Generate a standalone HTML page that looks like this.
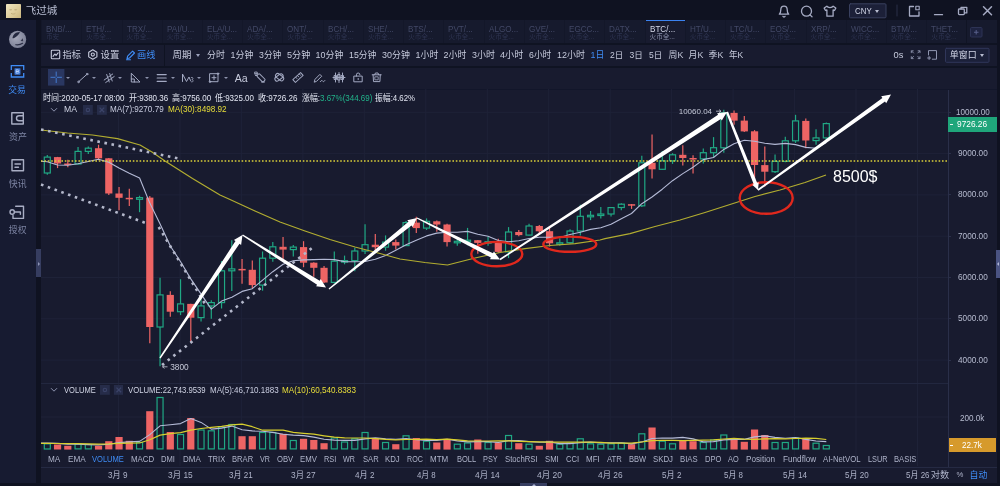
<!DOCTYPE html><html lang="zh"><head><meta charset="utf-8"><title>飞过城</title><style>

    html,body{margin:0;padding:0;background:#0f1221;}
    body{width:1000px;height:486px;overflow:hidden;position:relative;filter:blur(.4px);font-family:"Liberation Sans","Noto Sans CJK SC",sans-serif;color:#c3c7d9;font-size:9.5px;line-height:1;}
    .abs{position:absolute;}
    .t{position:absolute;white-space:nowrap;line-height:12px;height:12px;}
    #titlebar{left:0;top:0;width:1000px;height:20px;background:#0f1221;}
    #sidebar{left:0;top:20px;width:36.400px;height:466px;background:#171b31;}
    #main{left:41px;top:20px;width:955.500px;height:463px;background:#181b2f;}
    #tabs{left:41px;top:20px;width:955.500px;height:23px;background:#161a2d;}
    .tab{position:absolute;top:0;height:23px;width:40.240px;border-left:1px solid #131729;box-sizing:border-box;}
    .tab b{position:absolute;left:4px;top:3.600px;font-weight:normal;font-size:9.300px;color:#424866;line-height:10px;white-space:nowrap;transform:scaleX(.87);transform-origin:0 50%;}
    .tab i{position:absolute;left:4px;top:12.800px;font-style:normal;font-size:6.600px;color:#2e3451;line-height:8px;white-space:nowrap;}
    .tab.on b{color:#d5d9ea;}
    .tab.on i{color:#8a90ab;}
    .tab.on{background:#181b2f;}.tab.on:before{content:'';position:absolute;left:0;top:0;width:40px;height:1.300px;background:#3b82f0;}
    .sep{position:absolute;background:#0f1322;}
    .tb{color:#c6cadc;font-size:9.4px;}
    .blue{color:#3f8cf5;}
    .ind{color:#aeb3c9;font-size:9.2px;}
    .dt{color:#aeb3c9;font-size:9.2px;text-align:center;width:40px;}
    .ax{color:#b7bcd0;font-size:9.2px;}
    .side{color:#7d84a3;font-size:9.5px;width:36px;text-align:center;left:0;}
    
</style></head><body>
<div id="titlebar" class="abs"></div>
<svg class="abs" style="left:6.300px;top:3.700px" width="15" height="14.500" viewBox="0 0 15 14.500"><defs><linearGradient id="av" x1="0" y1="0" x2="1" y2="1"><stop offset="0" stop-color="#f0e6c2"/><stop offset=".6" stop-color="#dccb98"/><stop offset="1" stop-color="#c8b47c"/></linearGradient></defs><rect width="15" height="14.500" rx=".8" fill="url(#av)"/><ellipse cx="4.600" cy="5.800" rx="1.500" ry=".7" fill="#b9a575" opacity=".7"/><ellipse cx="9.600" cy="5.800" rx="1.500" ry=".7" fill="#b9a575" opacity=".7"/><path d="M5 9.300c1.400 1 3 1 4.400 0" stroke="#b39e6d" stroke-width=".8" fill="none" opacity=".8"/></svg>
<div class="t" style="left:25.77px;top:3.90px;font-size:10.55px;color:#b9bed2;">飞过城</div>
<svg class="abs" style="left:770px;top:0" width="230" height="20" viewBox="770 0 230 20" fill="none" stroke="#a6abc3" stroke-width="1.3" stroke-linecap="round" stroke-linejoin="round">
    <path d="M779.3 14.2h9.4c-1.2-1-1.5-2.2-1.5-4.4 0-2.2-1.3-3.7-3.2-3.7s-3.2 1.5-3.2 3.7c0 2.2-.3 3.400-1.5 4.400z"/><path d="M782.900 16.3a1.2 1.2 0 0 0 2.200 0"/>
    <circle cx="806.500" cy="11.200" r="5"/><path d="M810 14.900l2 1.900"/>
    <path d="M826.800 6.200l-2.600 1.900 1.300 2.400 1.400-.6v6.300h6.200V9.900l1.400.6 1.300-2.400-2.600-1.900c-.6 1-1.700 1.400-3.200 1.400s-2.600-.4-3.200-1.400z"/>
    <rect x="849.500" y="3.800" width="36.500" height="14" rx="1" stroke="#39405f" fill="#1c2038" stroke-width="1"/>
    <path d="M897 5v11" stroke="#2a2f49" stroke-width="1"/>
    <path d="M913.500 6.500h-4v9.500h9.500v-4"/><rect x="915.800" y="6.300" width="3.400" height="3.400" stroke-width="1.100"/>
    <path d="M934.500 14.700h8"/>
    <rect x="958.500" y="9" width="5.800" height="5.600" rx=".8"/><path d="M961 8.800V7.300h5.800v5.600h-2.200"/>
    <path d="M983.500 6.800l8 8M991.500 6.800l-8 8" stroke-width="1.500"/>
    </svg>
<div class="t" style="left:854.52px;top:5.10px;font-size:9.60px;color:#d3d7e8;transform:scaleX(0.824);transform-origin:0 50%;">CNY</div>
<div class="abs" style="left:875px;top:10px;width:0;height:0;border-left:2.6px solid transparent;border-right:2.6px solid transparent;border-top:3.2px solid #b8bdd0;"></div>
<div id="sidebar" class="abs"></div>
<svg class="abs" style="left:0;top:20px" width="36" height="260" viewBox="0 20 36 260" fill="none" stroke-linecap="round" stroke-linejoin="round">
    <defs><radialGradient id="lg" cx=".4" cy=".4" r=".7"><stop offset="0" stop-color="#a6a9ba"/><stop offset="1" stop-color="#777b91"/></radialGradient></defs>
<circle cx="17.600" cy="39.400" r="8.600" fill="url(#lg)"/>
<path d="M12.500 38.300C12.700 34.600 15.800 31.800 19.900 31.900 19.600 33.500 17.400 35.800 15.800 37 14.800 37.800 13.600 38.300 12.500 38.300z" fill="#1b1f36" opacity=".92"/>
<path d="M20.600 41.100l2.100-2.900.5 3.100z" fill="#1b1f36" opacity=".8"/>
<path d="M15.700 44.700c2.500.4 5-.1 6.900-1.400" stroke="#1b1f36" stroke-width="1.100" opacity=".85"/>
<g stroke="#3f8cf5" stroke-width="1.300" stroke-linecap="butt" stroke-linejoin="miter"><path d="M11.300 69.900v-4.200h12.400v4.200M11.300 73v4h12.400v-4"/><rect x="14.500" y="68.300" width="6" height="6.400" rx=".4" fill="#3a76d6" stroke="none"/></g>
<path d="M16.500 69.800h1.500a.8.800 0 0 1 0 1.650h-1.500zM16.500 71.450h1.700a.85.850 0 0 1 0 1.700h-1.700z" stroke="#c4dafb" stroke-width=".75"/>
<g stroke="#a9aec4" stroke-width="1.400"><path d="M23.300 115.300v-2.500h-11.500v11.200h11.500v-2.500"/><path d="M23.300 115.700h-4.300a2.500 2.500 0 0 0 0 5h4.300z"/>
    <rect x="12" y="159.800" width="11.500" height="11"/><path d="M15 164h5.500M15 167.300h3.500"/>
    <path d="M15.700 206.200h7.800v12.200h-10.500v-3"/><circle cx="12.200" cy="212" r="2.200"/><path d="M14.400 212h6v2.200"/></g>
    </svg>
<div class="t" style="left:8.36px;top:84.00px;font-size:8.74px;color:#3f8cf5;">交易</div>
<div class="t" style="left:8.95px;top:130.60px;font-size:9.01px;color:#7d84a3;">资产</div>
<div class="t" style="left:8.86px;top:177.80px;font-size:8.85px;color:#7d84a3;">快讯</div>
<div class="t" style="left:8.86px;top:224.20px;font-size:8.85px;color:#7d84a3;">授权</div>
<div class="abs" style="left:36.400px;top:248.700px;width:4.600px;height:28.500px;background:#363d60;"></div>
<div class="abs" style="left:37.500px;top:261.500px;width:0;height:0;border-top:2px solid transparent;border-bottom:2px solid transparent;border-left:2.500px solid #8d94b5;"></div>
<div id="main" class="abs"></div>
<div id="tabs" class="abs">
<div class="tab" style="left:0.0px"><b>BNB/...</b><i>币安</i></div>
<div class="tab" style="left:40.2px"><b>ETH/...</b><i>火币全...</i></div>
<div class="tab" style="left:80.5px"><b>TRX/...</b><i>火币全...</i></div>
<div class="tab" style="left:120.7px"><b>PAI/U...</b><i>火币全...</i></div>
<div class="tab" style="left:161.0px"><b>ELA/U...</b><i>火币全...</i></div>
<div class="tab" style="left:201.2px"><b>ADA/...</b><i>火币全...</i></div>
<div class="tab" style="left:241.4px"><b>ONT/...</b><i>火币全...</i></div>
<div class="tab" style="left:281.7px"><b>BCH/...</b><i>火币全...</i></div>
<div class="tab" style="left:321.9px"><b>SHE/...</b><i>火币全...</i></div>
<div class="tab" style="left:362.2px"><b>BTS/...</b><i>火币全...</i></div>
<div class="tab" style="left:402.4px"><b>PVT/...</b><i>火币全...</i></div>
<div class="tab" style="left:442.6px"><b>ALGO...</b><i>火币全...</i></div>
<div class="tab" style="left:482.9px"><b>GVE/...</b><i>火币全...</i></div>
<div class="tab" style="left:523.1px"><b>EGCC...</b><i>火币全...</i></div>
<div class="tab" style="left:563.4px"><b>DATX...</b><i>火币全...</i></div>
<div class="tab on" style="left:603.6px"><b>BTC/...</b><i>火币全...</i></div>
<div class="tab" style="left:643.8px"><b>HT/U...</b><i>火币全...</i></div>
<div class="tab" style="left:684.1px"><b>LTC/U...</b><i>火币全...</i></div>
<div class="tab" style="left:724.3px"><b>EOS/...</b><i>火币全...</i></div>
<div class="tab" style="left:764.6px"><b>XRP/...</b><i>火币全...</i></div>
<div class="tab" style="left:804.8px"><b>WICC...</b><i>火币全...</i></div>
<div class="tab" style="left:845.0px"><b>BTM/...</b><i>火币全...</i></div>
<div class="tab" style="left:885.3px"><b>THET...</b><i>火币全...</i></div>
<div class="abs" style="left:924.5px;top:0;width:1px;height:23px;background:#101424"></div>
</div>
<svg class="abs" style="left:970px;top:27px" width="13" height="11" viewBox="0 0 13 11"><rect x=".5" y=".5" width="11.500" height="9.500" rx="1" fill="#1e2340" stroke="#2d3354"/><path d="M6.200 3v4.500M4 5.250h4.500" stroke="#59608a" stroke-width="1"/></svg>
<div class="sep" style="left:41px;top:43px;width:956px;height:1.5px;"></div>
<div class="sep" style="left:41px;top:66px;width:956px;height:1.5px;"></div>
<div class="sep" style="left:41px;top:88.500px;width:956px;height:1px;background:#12162a"></div>
<div class="sep" style="left:164px;top:44px;width:1.2px;height:22px;"></div>
<div class="t" style="left:62.54px;top:48.60px;font-size:9.16px;color:#c6cadc;">指标</div>
<div class="t" style="left:100.53px;top:48.60px;font-size:9.42px;color:#c6cadc;">设置</div>
<div class="t" style="left:137.04px;top:48.60px;font-size:9.16px;color:#3f8cf5;">画线</div>
<div class="t" style="left:172.53px;top:48.60px;font-size:9.42px;color:#c6cadc;">周期</div>
<div class="t" style="left:207.05px;top:48.60px;font-size:8.90px;color:#c6cadc;">分时</div>
<div class="t" style="left:230.55px;top:48.60px;font-size:8.92px;color:#c6cadc;">1分钟</div>
<div class="t" style="left:259.06px;top:48.60px;font-size:8.72px;color:#c6cadc;">3分钟</div>
<div class="t" style="left:287.04px;top:48.60px;font-size:9.12px;color:#c6cadc;">5分钟</div>
<div class="t" style="left:315.55px;top:48.60px;font-size:8.93px;color:#c6cadc;">10分钟</div>
<div class="t" style="left:349.06px;top:48.60px;font-size:8.77px;color:#c6cadc;">15分钟</div>
<div class="t" style="left:382.05px;top:48.60px;font-size:8.93px;color:#c6cadc;">30分钟</div>
<div class="t" style="left:415.55px;top:48.60px;font-size:8.92px;color:#c6cadc;">1小时</div>
<div class="t" style="left:443.55px;top:48.60px;font-size:8.92px;color:#c6cadc;">2小时</div>
<div class="t" style="left:472.05px;top:48.60px;font-size:8.92px;color:#c6cadc;">3小时</div>
<div class="t" style="left:500.04px;top:48.60px;font-size:9.12px;color:#c6cadc;">4小时</div>
<div class="t" style="left:529.06px;top:48.60px;font-size:8.72px;color:#c6cadc;">6小时</div>
<div class="t" style="left:557.05px;top:48.60px;font-size:8.93px;color:#c6cadc;">12小时</div>
<div class="t" style="left:590.56px;top:48.60px;font-size:8.87px;color:#3f8cf5;">1日</div>
<div class="t" style="left:610.07px;top:48.60px;font-size:8.53px;color:#c6cadc;">2日</div>
<div class="t" style="left:629.57px;top:48.60px;font-size:8.53px;color:#c6cadc;">3日</div>
<div class="t" style="left:649.07px;top:48.60px;font-size:8.53px;color:#c6cadc;">5日</div>
<div class="t" style="left:668.56px;top:48.60px;font-size:8.88px;color:#c6cadc;">周K</div>
<div class="t" style="left:688.56px;top:48.60px;font-size:8.88px;color:#c6cadc;">月K</div>
<div class="t" style="left:708.56px;top:48.60px;font-size:8.88px;color:#c6cadc;">季K</div>
<div class="t" style="left:729.07px;top:48.60px;font-size:8.56px;color:#c6cadc;">年K</div>
<div class="t" style="left:893.53px;top:48.60px;font-size:9.31px;color:#c6cadc;">0s</div>
<div class="abs" style="left:196px;top:53.500px;width:0;height:0;border-left:2.400px solid transparent;border-right:2.400px solid transparent;border-top:3px solid #9ba1bb;"></div>
<svg class="abs" style="left:41px;top:44px" width="956" height="22" viewBox="41 44 956 22" fill="none" stroke="#c6cadc" stroke-width="1.100" stroke-linecap="round" stroke-linejoin="round">
    <rect x="51.300" y="50.300" width="8.400" height="8.400" rx=".8"/><path d="M53 56.300l1.800-2.300 1.300 1.300 2-2.500"/>
    <path d="M92.800 49.800l4.100 2.400v4.700l-4.100 2.400-4.100-2.400v-4.700z"/><circle cx="92.800" cy="54.550" r="1.600"/>
    <g stroke="#3f8cf5"><path d="M127 58.600l.6-2.500 5-5 1.900 1.900-5 5zM126.500 59.800h4"/></g>
    <g stroke="#8f95b0" stroke-width=".9"><path d="M911.300 52.700v-1.900h1.900M911.600 51.100l1.900 1.900M918.100 50.800h1.900v1.900M919.700 51.100l-1.900 1.900M920 56.700v1.900h-1.900M919.700 58.300l-1.900-1.900M913.200 58.600h-1.900v-1.900M911.600 58.300l1.900-1.900"/>
<path d="M928.500 55v-4.400h8v8.600h-4.200M927.600 58h3M929.100 56.500v3" stroke-width="1"/></g>
<rect x="945.500" y="48.300" width="43.500" height="14" rx="1" stroke="#30365a" fill="#1b2039" stroke-width="1"/>
    </svg>
<div class="t" style="left:949.85px;top:49.30px;font-size:8.93px;color:#d3d7e8;">单窗口</div>
<div class="abs" style="left:979.500px;top:54.200px;width:0;height:0;border-left:2.400px solid transparent;border-right:2.400px solid transparent;border-top:3px solid #b8bdd0;"></div>
<svg class="abs" style="left:41px;top:67px" width="400" height="22" viewBox="41 67 400 22" fill="none" stroke="#a3a9c2" stroke-width="1" stroke-linecap="round" stroke-linejoin="round">
<rect x="48" y="69" width="16.400" height="16.600" fill="#2a3761" stroke="none"/>
<path d="M56.200 72v4.200M56.200 78.400v4.200M50.900 77.300h4.200M57.300 77.300h4.200" stroke="#4682dc" stroke-width=".9"/>
<g transform="translate(82.800 78)"><path d="M-3.800 3.400l7.600-6.800"/><circle cx="-4.300" cy="3.900" r=".8"/><circle cx="4.300" cy="-3.900" r=".8"/></g>
<g transform="translate(109.200 78)"><path d="M-5 2l8.500-6M-3.500 4.500l8.500-6M-2.500 -3.500l2.500 7.500M.5 -4.500l2.500 7.500"/></g>
<g transform="translate(135.300 77.800)"><path d="M-4 -4.200v8.400h8.300zM-4 1.200h3v3"/></g>
<g transform="translate(161.700 78)"><path d="M-4.500 -3.400h9M-4.500 0h9M-4.500 3.400h9" stroke-width="1.200"/></g>
<g transform="translate(188 78)"><path d="M-5.500 3.500v-7.500l4 7.500 2.500-4.500 1.500 3.500"/><path d="M3.300 -.5c1.200-.4 1.800.3 1.600 1.100-.2.800-1 1-1 1 1.100.1 1.500.9 1.100 1.700-.4.700-1.300.7-1.900.4" stroke-width=".8"/></g>
<g transform="translate(214 77.700)"><rect x="-4" y="-4" width="8" height="8"/><path d="M0 -2v4M-2 0h4"/><circle cx="-4" cy="4" r=".8"/><circle cx="4" cy="-4" r=".8"/></g>
<g transform="translate(260 77.300)"><rect x="-1.800" y="-4.500" width="3.600" height="9" rx="1" transform="translate(1 0.500) rotate(-45)"/><path d="M-4.500 -4h2M-4.500 -1.800h1.500M1.500 4.700h3"/><rect x="-5" y="-5.300" width="2.200" height="2.200" stroke-width=".8"/></g>
<g transform="translate(279 77.500)"><rect x="-4.600" y="-2.200" width="9.200" height="4.400" rx="2.200" transform="rotate(-38)"/><rect x="-4.600" y="-2.200" width="9.200" height="4.400" rx="2.200" transform="translate(.6 -.3) rotate(38)"/></g>
<g transform="translate(298 77.500)"><rect x="-5.200" y="-1.900" width="10.400" height="3.800" transform="rotate(-42)"/><path d="M-2.300 -.3l1.200 1.300M-.5 -1.900l1.200 1.300M1.300 -3.500l1.200 1.300"/></g>
<g transform="translate(319.500 78)"><path d="M-5.200 3.800l.7-2.500 4.900-4.900 1.800 1.800-4.900 4.900zM.8 3.600c1.100-1.400 1.900-1.400 2.500-.4.500.8 1.200.6 2-.6"/></g>
<g transform="translate(339 77.500)"><path d="M-6 0h12M-3.500 -4.500v9M0 -5v10M3.500 -4.500v9"/><rect x="-4.500" y="-2" width="2" height="4"/><rect x="-1" y="-3" width="2" height="5.500"/><rect x="2.500" y="-2" width="2" height="4"/></g>
<g transform="translate(358.200 77.600)"><rect x="-4" y="-1.500" width="8" height="5.700"/><path d="M-1.800 -1.500v-1.300a1.800 1.800 0 0 1 3.600 0M0 .8v1.200"/></g>
<g transform="translate(376.700 77.300)"><path d="M-4.500 -2.500h9M-3.600 -2.500l.4 6.800h6.400l.4-6.800M-2 -2.500l.7-1.800h2.600l.7 1.800"/><rect x="-1.500" y="-.5" width="3" height="3" stroke-width=".8"/></g>
</svg>
<div class="abs" style="left:65.8px;top:77.200px;width:0;height:0;border-left:2.200px solid transparent;border-right:2.200px solid transparent;border-top:2.600px solid #8d93ad;"></div>
<div class="abs" style="left:92.2px;top:77.200px;width:0;height:0;border-left:2.200px solid transparent;border-right:2.200px solid transparent;border-top:2.600px solid #8d93ad;"></div>
<div class="abs" style="left:118.4px;top:77.200px;width:0;height:0;border-left:2.200px solid transparent;border-right:2.200px solid transparent;border-top:2.600px solid #8d93ad;"></div>
<div class="abs" style="left:145.2px;top:77.200px;width:0;height:0;border-left:2.200px solid transparent;border-right:2.200px solid transparent;border-top:2.600px solid #8d93ad;"></div>
<div class="abs" style="left:171.2px;top:77.200px;width:0;height:0;border-left:2.200px solid transparent;border-right:2.200px solid transparent;border-top:2.600px solid #8d93ad;"></div>
<div class="abs" style="left:197.4px;top:77.200px;width:0;height:0;border-left:2.200px solid transparent;border-right:2.200px solid transparent;border-top:2.600px solid #8d93ad;"></div>
<div class="abs" style="left:223.8px;top:77.200px;width:0;height:0;border-left:2.200px solid transparent;border-right:2.200px solid transparent;border-top:2.600px solid #8d93ad;"></div>
<div class="t" style="left:234.67px;top:71.80px;font-size:10.59px;color:#c6cadc;">Aa</div>
<svg class="abs" style="left:0;top:0" width="1000" height="486" viewBox="0 0 1000 486"><line x1="41" y1="360.1" x2="948" y2="360.1" stroke="#1e2238" stroke-width="1"/>
<line x1="41" y1="318.8" x2="948" y2="318.8" stroke="#1e2238" stroke-width="1"/>
<line x1="41" y1="277.5" x2="948" y2="277.5" stroke="#1e2238" stroke-width="1"/>
<line x1="41" y1="236.2" x2="948" y2="236.2" stroke="#1e2238" stroke-width="1"/>
<line x1="41" y1="194.9" x2="948" y2="194.9" stroke="#1e2238" stroke-width="1"/>
<line x1="41" y1="153.6" x2="948" y2="153.6" stroke="#1e2238" stroke-width="1"/>
<line x1="41" y1="112.3" x2="948" y2="112.3" stroke="#1e2238" stroke-width="1"/>
<line x1="41" y1="417" x2="948" y2="417" stroke="#1e2238" stroke-width="1"/>
<line x1="118.5" y1="89" x2="118.5" y2="466" stroke="#1e2238" stroke-width="1"/>
<line x1="180.0" y1="89" x2="180.0" y2="466" stroke="#1e2238" stroke-width="1"/>
<line x1="241.4" y1="89" x2="241.4" y2="466" stroke="#1e2238" stroke-width="1"/>
<line x1="302.9" y1="89" x2="302.9" y2="466" stroke="#1e2238" stroke-width="1"/>
<line x1="364.3" y1="89" x2="364.3" y2="466" stroke="#1e2238" stroke-width="1"/>
<line x1="425.8" y1="89" x2="425.8" y2="466" stroke="#1e2238" stroke-width="1"/>
<line x1="487.3" y1="89" x2="487.3" y2="466" stroke="#1e2238" stroke-width="1"/>
<line x1="548.7" y1="89" x2="548.7" y2="466" stroke="#1e2238" stroke-width="1"/>
<line x1="610.2" y1="89" x2="610.2" y2="466" stroke="#1e2238" stroke-width="1"/>
<line x1="671.6" y1="89" x2="671.6" y2="466" stroke="#1e2238" stroke-width="1"/>
<line x1="733.1" y1="89" x2="733.1" y2="466" stroke="#1e2238" stroke-width="1"/>
<line x1="794.6" y1="89" x2="794.6" y2="466" stroke="#1e2238" stroke-width="1"/>
<line x1="856.0" y1="89" x2="856.0" y2="466" stroke="#1e2238" stroke-width="1"/>
<line x1="917.5" y1="89" x2="917.5" y2="466" stroke="#1e2238" stroke-width="1"/>
<line x1="47.30" y1="155.0" x2="47.30" y2="157.1" stroke="#20a884" stroke-width="1.2"/>
<line x1="47.30" y1="173.0" x2="47.30" y2="174.7" stroke="#20a884" stroke-width="1.2"/>
<rect x="44.30" y="157.1" width="6" height="15.9" fill="none" stroke="#20a884" stroke-width="1.2"/>
<rect x="44.30" y="443.8" width="6" height="5.2" fill="none" stroke="#20a884" stroke-width="1.2"/>
<line x1="57.55" y1="156.9" x2="57.55" y2="168.1" stroke="#ee6464" stroke-width="1.2"/>
<rect x="53.95" y="157.1" width="7.2" height="6.4" fill="#ee6464"/>
<rect x="53.95" y="444.5" width="7.2" height="5.0" fill="#ee6464"/>
<line x1="67.80" y1="159.8" x2="67.80" y2="167.2" stroke="#ee6464" stroke-width="1.2"/>
<rect x="64.20" y="163.5" width="7.2" height="1.5" fill="#ee6464"/>
<rect x="64.20" y="445.8" width="7.2" height="3.8" fill="#ee6464"/>
<line x1="78.05" y1="147.0" x2="78.05" y2="151.4" stroke="#20a884" stroke-width="1.2"/>
<line x1="78.05" y1="163.9" x2="78.05" y2="164.1" stroke="#20a884" stroke-width="1.2"/>
<rect x="75.05" y="151.4" width="6" height="12.6" fill="none" stroke="#20a884" stroke-width="1.2"/>
<rect x="75.05" y="444.2" width="6" height="4.7" fill="none" stroke="#20a884" stroke-width="1.2"/>
<line x1="88.30" y1="146.6" x2="88.30" y2="148.2" stroke="#20a884" stroke-width="1.2"/>
<line x1="88.30" y1="151.4" x2="88.30" y2="154.0" stroke="#20a884" stroke-width="1.2"/>
<rect x="85.30" y="148.2" width="6" height="3.2" fill="none" stroke="#20a884" stroke-width="1.2"/>
<rect x="85.30" y="444.5" width="6" height="4.4" fill="none" stroke="#20a884" stroke-width="1.2"/>
<line x1="98.55" y1="144.7" x2="98.55" y2="160.2" stroke="#ee6464" stroke-width="1.2"/>
<rect x="94.95" y="148.2" width="7.2" height="10.1" fill="#ee6464"/>
<rect x="94.95" y="445.8" width="7.2" height="3.8" fill="#ee6464"/>
<line x1="108.80" y1="158.1" x2="108.80" y2="194.9" stroke="#ee6464" stroke-width="1.2"/>
<rect x="105.20" y="158.3" width="7.2" height="35.2" fill="#ee6464"/>
<rect x="105.20" y="441.2" width="7.2" height="8.2" fill="#ee6464"/>
<line x1="119.05" y1="187.1" x2="119.05" y2="210.2" stroke="#ee6464" stroke-width="1.2"/>
<rect x="115.45" y="193.5" width="7.2" height="4.3" fill="#ee6464"/>
<rect x="115.45" y="437.0" width="7.2" height="12.5" fill="#ee6464"/>
<line x1="129.30" y1="188.7" x2="129.30" y2="206.1" stroke="#ee6464" stroke-width="1.2"/>
<rect x="125.70" y="197.8" width="7.2" height="1.5" fill="#ee6464"/>
<rect x="125.70" y="440.8" width="7.2" height="8.8" fill="#ee6464"/>
<line x1="139.55" y1="195.7" x2="139.55" y2="197.6" stroke="#20a884" stroke-width="1.2"/>
<line x1="139.55" y1="199.3" x2="139.55" y2="212.2" stroke="#20a884" stroke-width="1.2"/>
<rect x="136.55" y="197.6" width="6" height="1.7" fill="none" stroke="#20a884" stroke-width="1.2"/>
<rect x="136.55" y="442.5" width="6" height="6.4" fill="none" stroke="#20a884" stroke-width="1.2"/>
<line x1="149.80" y1="196.1" x2="149.80" y2="343.2" stroke="#ee6464" stroke-width="1.2"/>
<rect x="146.20" y="197.6" width="7.2" height="129.4" fill="#ee6464"/>
<rect x="146.20" y="411.2" width="7.2" height="38.2" fill="#ee6464"/>
<line x1="160.05" y1="277.7" x2="160.05" y2="294.9" stroke="#20a884" stroke-width="1.2"/>
<line x1="160.05" y1="327.1" x2="160.05" y2="366.3" stroke="#20a884" stroke-width="1.2"/>
<rect x="157.05" y="294.9" width="6" height="32.1" fill="none" stroke="#20a884" stroke-width="1.2"/>
<rect x="157.05" y="397.5" width="6" height="51.4" fill="none" stroke="#20a884" stroke-width="1.2"/>
<line x1="170.30" y1="291.3" x2="170.30" y2="316.7" stroke="#ee6464" stroke-width="1.2"/>
<rect x="166.70" y="294.9" width="7.2" height="16.8" fill="#ee6464"/>
<rect x="166.70" y="432.0" width="7.2" height="17.5" fill="#ee6464"/>
<line x1="180.55" y1="279.2" x2="180.55" y2="303.9" stroke="#20a884" stroke-width="1.2"/>
<line x1="180.55" y1="311.7" x2="180.55" y2="315.1" stroke="#20a884" stroke-width="1.2"/>
<rect x="177.55" y="303.9" width="6" height="7.8" fill="none" stroke="#20a884" stroke-width="1.2"/>
<rect x="177.55" y="434.5" width="6" height="14.4" fill="none" stroke="#20a884" stroke-width="1.2"/>
<line x1="190.80" y1="303.7" x2="190.80" y2="342.1" stroke="#ee6464" stroke-width="1.2"/>
<rect x="187.20" y="303.9" width="7.2" height="13.8" fill="#ee6464"/>
<rect x="187.20" y="418.0" width="7.2" height="31.5" fill="#ee6464"/>
<line x1="201.05" y1="295.3" x2="201.05" y2="305.9" stroke="#20a884" stroke-width="1.2"/>
<line x1="201.05" y1="317.6" x2="201.05" y2="321.5" stroke="#20a884" stroke-width="1.2"/>
<rect x="198.05" y="305.9" width="6" height="11.7" fill="none" stroke="#20a884" stroke-width="1.2"/>
<rect x="198.05" y="430.0" width="6" height="18.9" fill="none" stroke="#20a884" stroke-width="1.2"/>
<line x1="211.30" y1="300.2" x2="211.30" y2="302.6" stroke="#20a884" stroke-width="1.2"/>
<line x1="211.30" y1="305.9" x2="211.30" y2="318.8" stroke="#20a884" stroke-width="1.2"/>
<rect x="208.30" y="302.6" width="6" height="3.3" fill="none" stroke="#20a884" stroke-width="1.2"/>
<rect x="208.30" y="430.8" width="6" height="18.1" fill="none" stroke="#20a884" stroke-width="1.2"/>
<line x1="221.55" y1="261.0" x2="221.55" y2="270.8" stroke="#20a884" stroke-width="1.2"/>
<line x1="221.55" y1="302.6" x2="221.55" y2="308.5" stroke="#20a884" stroke-width="1.2"/>
<rect x="218.55" y="270.8" width="6" height="31.8" fill="none" stroke="#20a884" stroke-width="1.2"/>
<rect x="218.55" y="427.0" width="6" height="21.9" fill="none" stroke="#20a884" stroke-width="1.2"/>
<line x1="231.80" y1="240.3" x2="231.80" y2="268.9" stroke="#20a884" stroke-width="1.2"/>
<line x1="231.80" y1="270.8" x2="231.80" y2="291.1" stroke="#20a884" stroke-width="1.2"/>
<rect x="228.80" y="268.9" width="6" height="1.9" fill="none" stroke="#20a884" stroke-width="1.2"/>
<rect x="228.80" y="424.5" width="6" height="24.4" fill="none" stroke="#20a884" stroke-width="1.2"/>
<line x1="242.05" y1="258.9" x2="242.05" y2="283.7" stroke="#ee6464" stroke-width="1.2"/>
<rect x="238.45" y="268.9" width="7.2" height="1.5" fill="#ee6464"/>
<rect x="238.45" y="436.2" width="7.2" height="13.2" fill="#ee6464"/>
<line x1="252.30" y1="260.6" x2="252.30" y2="288.2" stroke="#ee6464" stroke-width="1.2"/>
<rect x="248.70" y="269.8" width="7.2" height="15.3" fill="#ee6464"/>
<rect x="248.70" y="436.2" width="7.2" height="13.2" fill="#ee6464"/>
<line x1="262.55" y1="251.5" x2="262.55" y2="258.2" stroke="#20a884" stroke-width="1.2"/>
<line x1="262.55" y1="285.1" x2="262.55" y2="290.7" stroke="#20a884" stroke-width="1.2"/>
<rect x="259.55" y="258.2" width="6" height="26.9" fill="none" stroke="#20a884" stroke-width="1.2"/>
<rect x="259.55" y="432.5" width="6" height="16.4" fill="none" stroke="#20a884" stroke-width="1.2"/>
<line x1="272.80" y1="242.0" x2="272.80" y2="246.8" stroke="#20a884" stroke-width="1.2"/>
<line x1="272.80" y1="258.2" x2="272.80" y2="261.8" stroke="#20a884" stroke-width="1.2"/>
<rect x="269.80" y="246.8" width="6" height="11.4" fill="none" stroke="#20a884" stroke-width="1.2"/>
<rect x="269.80" y="432.5" width="6" height="16.4" fill="none" stroke="#20a884" stroke-width="1.2"/>
<line x1="283.05" y1="237.0" x2="283.05" y2="258.9" stroke="#ee6464" stroke-width="1.2"/>
<rect x="279.45" y="246.8" width="7.2" height="2.8" fill="#ee6464"/>
<rect x="279.45" y="433.8" width="7.2" height="15.8" fill="#ee6464"/>
<line x1="293.30" y1="244.9" x2="293.30" y2="247.1" stroke="#20a884" stroke-width="1.2"/>
<line x1="293.30" y1="249.5" x2="293.30" y2="256.4" stroke="#20a884" stroke-width="1.2"/>
<rect x="290.30" y="247.1" width="6" height="2.5" fill="none" stroke="#20a884" stroke-width="1.2"/>
<rect x="290.30" y="440.5" width="6" height="8.4" fill="none" stroke="#20a884" stroke-width="1.2"/>
<line x1="303.55" y1="241.2" x2="303.55" y2="267.2" stroke="#ee6464" stroke-width="1.2"/>
<rect x="299.95" y="247.1" width="7.2" height="15.6" fill="#ee6464"/>
<rect x="299.95" y="438.8" width="7.2" height="10.8" fill="#ee6464"/>
<line x1="313.80" y1="262.2" x2="313.80" y2="276.7" stroke="#ee6464" stroke-width="1.2"/>
<rect x="310.20" y="262.7" width="7.2" height="5.1" fill="#ee6464"/>
<rect x="310.20" y="440.0" width="7.2" height="9.5" fill="#ee6464"/>
<line x1="324.05" y1="265.9" x2="324.05" y2="282.9" stroke="#ee6464" stroke-width="1.2"/>
<rect x="320.45" y="267.8" width="7.2" height="14.7" fill="#ee6464"/>
<rect x="320.45" y="443.2" width="7.2" height="6.2" fill="#ee6464"/>
<line x1="334.30" y1="251.5" x2="334.30" y2="261.2" stroke="#20a884" stroke-width="1.2"/>
<line x1="334.30" y1="282.4" x2="334.30" y2="283.5" stroke="#20a884" stroke-width="1.2"/>
<rect x="331.30" y="261.2" width="6" height="21.2" fill="none" stroke="#20a884" stroke-width="1.2"/>
<rect x="331.30" y="438.0" width="6" height="10.9" fill="none" stroke="#20a884" stroke-width="1.2"/>
<line x1="344.55" y1="255.6" x2="344.55" y2="260.6" stroke="#20a884" stroke-width="1.2"/>
<line x1="344.55" y1="262.1" x2="344.55" y2="264.3" stroke="#20a884" stroke-width="1.2"/>
<rect x="341.55" y="260.6" width="6" height="1.5" fill="none" stroke="#20a884" stroke-width="1.2"/>
<rect x="341.55" y="442.0" width="6" height="6.9" fill="none" stroke="#20a884" stroke-width="1.2"/>
<line x1="354.80" y1="247.8" x2="354.80" y2="251.0" stroke="#20a884" stroke-width="1.2"/>
<line x1="354.80" y1="260.6" x2="354.80" y2="271.3" stroke="#20a884" stroke-width="1.2"/>
<rect x="351.80" y="251.0" width="6" height="9.6" fill="none" stroke="#20a884" stroke-width="1.2"/>
<rect x="351.80" y="438.8" width="6" height="10.2" fill="none" stroke="#20a884" stroke-width="1.2"/>
<line x1="365.05" y1="224.2" x2="365.05" y2="244.7" stroke="#20a884" stroke-width="1.2"/>
<line x1="365.05" y1="251.0" x2="365.05" y2="254.0" stroke="#20a884" stroke-width="1.2"/>
<rect x="362.05" y="244.7" width="6" height="6.3" fill="none" stroke="#20a884" stroke-width="1.2"/>
<rect x="362.05" y="432.5" width="6" height="16.4" fill="none" stroke="#20a884" stroke-width="1.2"/>
<line x1="375.30" y1="234.1" x2="375.30" y2="252.7" stroke="#ee6464" stroke-width="1.2"/>
<rect x="371.70" y="244.7" width="7.2" height="2.5" fill="#ee6464"/>
<rect x="371.70" y="438.0" width="7.2" height="11.5" fill="#ee6464"/>
<line x1="385.55" y1="235.4" x2="385.55" y2="242.1" stroke="#20a884" stroke-width="1.2"/>
<line x1="385.55" y1="247.2" x2="385.55" y2="250.7" stroke="#20a884" stroke-width="1.2"/>
<rect x="382.55" y="242.1" width="6" height="5.0" fill="none" stroke="#20a884" stroke-width="1.2"/>
<rect x="382.55" y="442.5" width="6" height="6.4" fill="none" stroke="#20a884" stroke-width="1.2"/>
<line x1="395.80" y1="239.5" x2="395.80" y2="249.4" stroke="#ee6464" stroke-width="1.2"/>
<rect x="392.20" y="242.1" width="7.2" height="3.5" fill="#ee6464"/>
<rect x="392.20" y="444.2" width="7.2" height="5.2" fill="#ee6464"/>
<line x1="406.05" y1="220.9" x2="406.05" y2="222.6" stroke="#20a884" stroke-width="1.2"/>
<line x1="406.05" y1="245.6" x2="406.05" y2="245.7" stroke="#20a884" stroke-width="1.2"/>
<rect x="403.05" y="222.6" width="6" height="23.0" fill="none" stroke="#20a884" stroke-width="1.2"/>
<rect x="403.05" y="435.8" width="6" height="13.2" fill="none" stroke="#20a884" stroke-width="1.2"/>
<line x1="416.30" y1="216.8" x2="416.30" y2="232.9" stroke="#ee6464" stroke-width="1.2"/>
<rect x="412.70" y="222.6" width="7.2" height="5.5" fill="#ee6464"/>
<rect x="412.70" y="438.0" width="7.2" height="11.5" fill="#ee6464"/>
<line x1="426.55" y1="218.4" x2="426.55" y2="221.3" stroke="#20a884" stroke-width="1.2"/>
<line x1="426.55" y1="228.1" x2="426.55" y2="230.0" stroke="#20a884" stroke-width="1.2"/>
<rect x="423.55" y="221.3" width="6" height="6.8" fill="none" stroke="#20a884" stroke-width="1.2"/>
<rect x="423.55" y="441.2" width="6" height="7.7" fill="none" stroke="#20a884" stroke-width="1.2"/>
<line x1="436.80" y1="220.5" x2="436.80" y2="231.7" stroke="#ee6464" stroke-width="1.2"/>
<rect x="433.20" y="221.3" width="7.2" height="3.2" fill="#ee6464"/>
<rect x="433.20" y="442.5" width="7.2" height="7.0" fill="#ee6464"/>
<line x1="447.05" y1="223.8" x2="447.05" y2="246.5" stroke="#ee6464" stroke-width="1.2"/>
<rect x="443.45" y="224.5" width="7.2" height="17.6" fill="#ee6464"/>
<rect x="443.45" y="438.8" width="7.2" height="10.8" fill="#ee6464"/>
<line x1="457.30" y1="238.3" x2="457.30" y2="241.3" stroke="#20a884" stroke-width="1.2"/>
<line x1="457.30" y1="242.8" x2="457.30" y2="245.7" stroke="#20a884" stroke-width="1.2"/>
<rect x="454.30" y="241.3" width="6" height="1.5" fill="none" stroke="#20a884" stroke-width="1.2"/>
<rect x="454.30" y="444.2" width="6" height="4.7" fill="none" stroke="#20a884" stroke-width="1.2"/>
<line x1="467.55" y1="227.9" x2="467.55" y2="240.2" stroke="#20a884" stroke-width="1.2"/>
<line x1="467.55" y1="241.7" x2="467.55" y2="245.3" stroke="#20a884" stroke-width="1.2"/>
<rect x="464.55" y="240.2" width="6" height="1.5" fill="none" stroke="#20a884" stroke-width="1.2"/>
<rect x="464.55" y="443.0" width="6" height="5.9" fill="none" stroke="#20a884" stroke-width="1.2"/>
<line x1="477.80" y1="239.9" x2="477.80" y2="253.8" stroke="#ee6464" stroke-width="1.2"/>
<rect x="474.20" y="240.2" width="7.2" height="2.7" fill="#ee6464"/>
<rect x="474.20" y="439.5" width="7.2" height="10.0" fill="#ee6464"/>
<line x1="488.05" y1="236.6" x2="488.05" y2="241.7" stroke="#20a884" stroke-width="1.2"/>
<line x1="488.05" y1="243.2" x2="488.05" y2="245.7" stroke="#20a884" stroke-width="1.2"/>
<rect x="485.05" y="241.7" width="6" height="1.5" fill="none" stroke="#20a884" stroke-width="1.2"/>
<rect x="485.05" y="442.5" width="6" height="6.4" fill="none" stroke="#20a884" stroke-width="1.2"/>
<line x1="498.30" y1="238.7" x2="498.30" y2="252.7" stroke="#ee6464" stroke-width="1.2"/>
<rect x="494.70" y="241.7" width="7.2" height="10.2" fill="#ee6464"/>
<rect x="494.70" y="442.5" width="7.2" height="7.0" fill="#ee6464"/>
<line x1="508.55" y1="227.1" x2="508.55" y2="232.0" stroke="#20a884" stroke-width="1.2"/>
<line x1="508.55" y1="251.9" x2="508.55" y2="258.1" stroke="#20a884" stroke-width="1.2"/>
<rect x="505.55" y="232.0" width="6" height="19.8" fill="none" stroke="#20a884" stroke-width="1.2"/>
<rect x="505.55" y="435.5" width="6" height="13.4" fill="none" stroke="#20a884" stroke-width="1.2"/>
<line x1="518.80" y1="230.0" x2="518.80" y2="236.2" stroke="#ee6464" stroke-width="1.2"/>
<rect x="515.20" y="232.0" width="7.2" height="3.1" fill="#ee6464"/>
<rect x="515.20" y="443.2" width="7.2" height="6.2" fill="#ee6464"/>
<line x1="529.05" y1="223.8" x2="529.05" y2="226.0" stroke="#20a884" stroke-width="1.2"/>
<line x1="529.05" y1="235.1" x2="529.05" y2="235.4" stroke="#20a884" stroke-width="1.2"/>
<rect x="526.05" y="226.0" width="6" height="9.1" fill="none" stroke="#20a884" stroke-width="1.2"/>
<rect x="526.05" y="444.2" width="6" height="4.7" fill="none" stroke="#20a884" stroke-width="1.2"/>
<line x1="539.30" y1="225.0" x2="539.30" y2="234.1" stroke="#ee6464" stroke-width="1.2"/>
<rect x="535.70" y="226.0" width="7.2" height="5.3" fill="#ee6464"/>
<rect x="535.70" y="445.8" width="7.2" height="3.8" fill="#ee6464"/>
<line x1="549.55" y1="227.1" x2="549.55" y2="246.5" stroke="#ee6464" stroke-width="1.2"/>
<rect x="545.95" y="231.2" width="7.2" height="12.1" fill="#ee6464"/>
<rect x="545.95" y="440.8" width="7.2" height="8.8" fill="#ee6464"/>
<line x1="559.80" y1="238.3" x2="559.80" y2="242.8" stroke="#20a884" stroke-width="1.2"/>
<line x1="559.80" y1="244.3" x2="559.80" y2="245.7" stroke="#20a884" stroke-width="1.2"/>
<rect x="556.80" y="242.8" width="6" height="1.5" fill="none" stroke="#20a884" stroke-width="1.2"/>
<rect x="556.80" y="444.2" width="6" height="4.7" fill="none" stroke="#20a884" stroke-width="1.2"/>
<line x1="570.05" y1="229.2" x2="570.05" y2="231.0" stroke="#20a884" stroke-width="1.2"/>
<line x1="570.05" y1="242.8" x2="570.05" y2="243.6" stroke="#20a884" stroke-width="1.2"/>
<rect x="567.05" y="231.0" width="6" height="11.7" fill="none" stroke="#20a884" stroke-width="1.2"/>
<rect x="567.05" y="443.2" width="6" height="5.7" fill="none" stroke="#20a884" stroke-width="1.2"/>
<line x1="580.30" y1="204.8" x2="580.30" y2="216.3" stroke="#20a884" stroke-width="1.2"/>
<line x1="580.30" y1="231.0" x2="580.30" y2="235.4" stroke="#20a884" stroke-width="1.2"/>
<rect x="577.30" y="216.3" width="6" height="14.7" fill="none" stroke="#20a884" stroke-width="1.2"/>
<rect x="577.30" y="438.8" width="6" height="10.2" fill="none" stroke="#20a884" stroke-width="1.2"/>
<line x1="590.55" y1="211.0" x2="590.55" y2="215.3" stroke="#20a884" stroke-width="1.2"/>
<line x1="590.55" y1="216.8" x2="590.55" y2="220.1" stroke="#20a884" stroke-width="1.2"/>
<rect x="587.55" y="215.3" width="6" height="1.5" fill="none" stroke="#20a884" stroke-width="1.2"/>
<rect x="587.55" y="443.8" width="6" height="5.2" fill="none" stroke="#20a884" stroke-width="1.2"/>
<line x1="600.80" y1="206.9" x2="600.80" y2="214.0" stroke="#20a884" stroke-width="1.2"/>
<line x1="600.80" y1="215.5" x2="600.80" y2="218.4" stroke="#20a884" stroke-width="1.2"/>
<rect x="597.80" y="214.0" width="6" height="1.5" fill="none" stroke="#20a884" stroke-width="1.2"/>
<rect x="597.80" y="444.2" width="6" height="4.7" fill="none" stroke="#20a884" stroke-width="1.2"/>
<line x1="611.05" y1="207.3" x2="611.05" y2="207.6" stroke="#20a884" stroke-width="1.2"/>
<line x1="611.05" y1="214.0" x2="611.05" y2="216.4" stroke="#20a884" stroke-width="1.2"/>
<rect x="608.05" y="207.6" width="6" height="6.4" fill="none" stroke="#20a884" stroke-width="1.2"/>
<rect x="608.05" y="443.8" width="6" height="5.2" fill="none" stroke="#20a884" stroke-width="1.2"/>
<line x1="621.30" y1="203.2" x2="621.30" y2="204.2" stroke="#20a884" stroke-width="1.2"/>
<line x1="621.30" y1="207.6" x2="621.30" y2="210.2" stroke="#20a884" stroke-width="1.2"/>
<rect x="618.30" y="204.2" width="6" height="3.3" fill="none" stroke="#20a884" stroke-width="1.2"/>
<rect x="618.30" y="443.2" width="6" height="5.7" fill="none" stroke="#20a884" stroke-width="1.2"/>
<line x1="631.55" y1="204.0" x2="631.55" y2="208.9" stroke="#ee6464" stroke-width="1.2"/>
<rect x="627.95" y="204.2" width="7.2" height="1.5" fill="#ee6464"/>
<rect x="627.95" y="444.2" width="7.2" height="5.2" fill="#ee6464"/>
<line x1="641.80" y1="155.7" x2="641.80" y2="162.8" stroke="#20a884" stroke-width="1.2"/>
<line x1="641.80" y1="205.7" x2="641.80" y2="206.9" stroke="#20a884" stroke-width="1.2"/>
<rect x="638.80" y="162.8" width="6" height="43.0" fill="none" stroke="#20a884" stroke-width="1.2"/>
<rect x="638.80" y="433.8" width="6" height="15.2" fill="none" stroke="#20a884" stroke-width="1.2"/>
<line x1="652.05" y1="134.6" x2="652.05" y2="178.4" stroke="#ee6464" stroke-width="1.2"/>
<rect x="648.45" y="162.8" width="7.2" height="6.5" fill="#ee6464"/>
<rect x="648.45" y="427.5" width="7.2" height="22.0" fill="#ee6464"/>
<line x1="662.30" y1="151.1" x2="662.30" y2="160.8" stroke="#20a884" stroke-width="1.2"/>
<line x1="662.30" y1="169.3" x2="662.30" y2="169.7" stroke="#20a884" stroke-width="1.2"/>
<rect x="659.30" y="160.8" width="6" height="8.5" fill="none" stroke="#20a884" stroke-width="1.2"/>
<rect x="659.30" y="441.2" width="6" height="7.7" fill="none" stroke="#20a884" stroke-width="1.2"/>
<line x1="672.55" y1="153.2" x2="672.55" y2="154.8" stroke="#20a884" stroke-width="1.2"/>
<line x1="672.55" y1="160.8" x2="672.55" y2="163.9" stroke="#20a884" stroke-width="1.2"/>
<rect x="669.55" y="154.8" width="6" height="6.0" fill="none" stroke="#20a884" stroke-width="1.2"/>
<rect x="669.55" y="443.8" width="6" height="5.2" fill="none" stroke="#20a884" stroke-width="1.2"/>
<line x1="682.80" y1="145.3" x2="682.80" y2="165.6" stroke="#ee6464" stroke-width="1.2"/>
<rect x="679.20" y="154.8" width="7.2" height="3.2" fill="#ee6464"/>
<rect x="679.20" y="440.8" width="7.2" height="8.8" fill="#ee6464"/>
<line x1="693.05" y1="155.3" x2="693.05" y2="173.4" stroke="#ee6464" stroke-width="1.2"/>
<rect x="689.45" y="158.0" width="7.2" height="1.5" fill="#ee6464"/>
<rect x="689.45" y="441.2" width="7.2" height="8.2" fill="#ee6464"/>
<line x1="703.30" y1="148.6" x2="703.30" y2="152.7" stroke="#20a884" stroke-width="1.2"/>
<line x1="703.30" y1="158.9" x2="703.30" y2="163.5" stroke="#20a884" stroke-width="1.2"/>
<rect x="700.30" y="152.7" width="6" height="6.2" fill="none" stroke="#20a884" stroke-width="1.2"/>
<rect x="700.30" y="442.5" width="6" height="6.4" fill="none" stroke="#20a884" stroke-width="1.2"/>
<line x1="713.55" y1="137.1" x2="713.55" y2="147.7" stroke="#20a884" stroke-width="1.2"/>
<line x1="713.55" y1="152.7" x2="713.55" y2="157.7" stroke="#20a884" stroke-width="1.2"/>
<rect x="710.55" y="147.7" width="6" height="5.0" fill="none" stroke="#20a884" stroke-width="1.2"/>
<rect x="710.55" y="440.0" width="6" height="8.9" fill="none" stroke="#20a884" stroke-width="1.2"/>
<line x1="723.80" y1="109.8" x2="723.80" y2="112.9" stroke="#20a884" stroke-width="1.2"/>
<line x1="723.80" y1="147.7" x2="723.80" y2="152.8" stroke="#20a884" stroke-width="1.2"/>
<rect x="720.80" y="112.9" width="6" height="34.9" fill="none" stroke="#20a884" stroke-width="1.2"/>
<rect x="720.80" y="435.0" width="6" height="13.9" fill="none" stroke="#20a884" stroke-width="1.2"/>
<line x1="734.05" y1="110.6" x2="734.05" y2="124.7" stroke="#ee6464" stroke-width="1.2"/>
<rect x="730.45" y="112.9" width="7.2" height="7.7" fill="#ee6464"/>
<rect x="730.45" y="438.0" width="7.2" height="11.5" fill="#ee6464"/>
<line x1="744.30" y1="116.0" x2="744.30" y2="132.1" stroke="#ee6464" stroke-width="1.2"/>
<rect x="740.70" y="120.6" width="7.2" height="10.8" fill="#ee6464"/>
<rect x="740.70" y="441.8" width="7.2" height="7.8" fill="#ee6464"/>
<line x1="754.55" y1="130.1" x2="754.55" y2="179.2" stroke="#ee6464" stroke-width="1.2"/>
<rect x="750.95" y="131.3" width="7.2" height="33.7" fill="#ee6464"/>
<rect x="750.95" y="429.5" width="7.2" height="20.0" fill="#ee6464"/>
<line x1="764.80" y1="146.6" x2="764.80" y2="186.6" stroke="#ee6464" stroke-width="1.2"/>
<rect x="761.20" y="165.1" width="7.2" height="6.6" fill="#ee6464"/>
<rect x="761.20" y="435.0" width="7.2" height="14.5" fill="#ee6464"/>
<line x1="775.05" y1="154.4" x2="775.05" y2="161.4" stroke="#20a884" stroke-width="1.2"/>
<line x1="775.05" y1="171.7" x2="775.05" y2="173.0" stroke="#20a884" stroke-width="1.2"/>
<rect x="772.05" y="161.4" width="6" height="10.3" fill="none" stroke="#20a884" stroke-width="1.2"/>
<rect x="772.05" y="442.5" width="6" height="6.4" fill="none" stroke="#20a884" stroke-width="1.2"/>
<line x1="785.30" y1="136.7" x2="785.30" y2="140.8" stroke="#20a884" stroke-width="1.2"/>
<line x1="785.30" y1="161.4" x2="785.30" y2="162.3" stroke="#20a884" stroke-width="1.2"/>
<rect x="782.30" y="140.8" width="6" height="20.6" fill="none" stroke="#20a884" stroke-width="1.2"/>
<rect x="782.30" y="442.5" width="6" height="6.4" fill="none" stroke="#20a884" stroke-width="1.2"/>
<line x1="795.55" y1="114.8" x2="795.55" y2="120.9" stroke="#20a884" stroke-width="1.2"/>
<line x1="795.55" y1="140.8" x2="795.55" y2="142.9" stroke="#20a884" stroke-width="1.2"/>
<rect x="792.55" y="120.9" width="6" height="19.9" fill="none" stroke="#20a884" stroke-width="1.2"/>
<rect x="792.55" y="438.0" width="6" height="10.9" fill="none" stroke="#20a884" stroke-width="1.2"/>
<line x1="805.80" y1="118.5" x2="805.80" y2="148.2" stroke="#ee6464" stroke-width="1.2"/>
<rect x="802.20" y="120.9" width="7.2" height="19.6" fill="#ee6464"/>
<rect x="802.20" y="438.8" width="7.2" height="10.8" fill="#ee6464"/>
<line x1="816.05" y1="129.2" x2="816.05" y2="137.9" stroke="#20a884" stroke-width="1.2"/>
<line x1="816.05" y1="140.5" x2="816.05" y2="144.7" stroke="#20a884" stroke-width="1.2"/>
<rect x="813.05" y="137.9" width="6" height="2.7" fill="none" stroke="#20a884" stroke-width="1.2"/>
<rect x="813.05" y="443.2" width="6" height="5.7" fill="none" stroke="#20a884" stroke-width="1.2"/>
<line x1="826.30" y1="122.4" x2="826.30" y2="123.6" stroke="#20a884" stroke-width="1.2"/>
<line x1="826.30" y1="137.9" x2="826.30" y2="140.2" stroke="#20a884" stroke-width="1.2"/>
<rect x="823.30" y="123.6" width="6" height="14.3" fill="none" stroke="#20a884" stroke-width="1.2"/>
<rect x="823.30" y="445.5" width="6" height="3.4" fill="none" stroke="#20a884" stroke-width="1.2"/>
<polyline points="41,161.2 47.3,161.7 57.5,165.0 67.8,165.2 78.0,163.8 88.3,161.5 98.5,159.3 108.8,162.3 119.0,168.1 129.3,173.2 139.6,178.0 149.8,203.1 160.1,224.1 170.3,246.0 180.6,261.8 190.8,278.9 201.1,294.1 211.3,309.1 221.6,301.1 231.8,297.3 242.1,291.4 252.3,288.7 262.6,280.2 272.8,271.7 283.1,264.2 293.3,260.8 303.6,259.9 313.8,259.6 324.1,259.2 334.3,259.6 344.6,261.6 354.8,261.8 365.1,261.5 375.3,259.3 385.6,255.6 395.8,250.3 406.1,244.8 416.3,240.2 426.6,235.9 436.8,233.1 447.1,232.3 457.3,232.2 467.6,231.4 477.8,234.3 488.1,236.3 498.3,240.6 508.6,241.7 518.8,240.7 529.0,238.5 539.3,237.3 549.5,237.3 559.8,237.5 570.0,234.5 580.3,232.3 590.5,229.4 600.8,227.7 611.0,224.3 621.3,218.7 631.5,213.5 641.8,203.7 652.0,197.0 662.3,189.2 672.5,180.7 682.8,173.6 693.0,167.2 703.3,159.6 713.5,157.5 723.8,149.4 734.0,143.7 744.3,140.3 754.5,141.3 764.8,143.2 775.0,144.4 785.3,143.4 795.5,144.6 805.8,147.4 816.0,148.3 826.3,142.4" fill="none" stroke="#b4bad6" stroke-width="1.1" stroke-linejoin="round"/>
<polyline points="41,130 67.5,133 92.5,135 117.5,138.7 140,145 152,152 165,161 192.5,178.5 220,195 230,199.5 255,211 280,222 305,231 330,239.5 355,247 380,253.5 400,259 425,262.5 447.5,265 475,258 500,252.5 525,248.7 550,245.5 575,243.7 600,240 605,238.7 630,233.7 655,226.5 680,220 705,212.5 730,204.5 755,196.5 780,190 805,182.5 826,175" fill="none" stroke="#b2ad30" stroke-width="1.2" stroke-linejoin="round"/>
<polyline points="41,443.1 47.3,443.1 57.5,443.4 67.8,444.1 78.0,444.3 88.3,444.6 98.5,444.9 108.8,444.3 119.0,442.6 129.3,441.9 139.6,441.4 149.8,434.6 160.1,425.8 170.3,424.8 180.6,423.6 190.8,418.6 201.1,422.4 211.3,429.1 221.6,428.1 231.8,426.1 242.1,429.7 252.3,430.9 262.6,431.3 272.8,432.4 283.1,434.2 293.3,435.1 303.6,435.6 313.8,437.1 324.1,439.2 334.3,440.1 344.6,440.4 354.8,440.4 365.1,438.9 375.3,437.9 385.6,438.8 395.8,439.2 406.1,438.6 416.3,439.7 426.6,440.4 436.8,440.4 447.1,439.2 457.3,440.9 467.6,441.9 477.8,441.6 488.1,441.6 498.3,442.4 508.6,440.6 518.8,440.6 529.0,441.6 539.3,442.2 549.5,441.9 559.8,443.6 570.0,443.6 580.3,442.6 590.5,442.1 600.8,442.9 611.0,442.8 621.3,442.8 631.5,443.9 641.8,441.9 652.0,438.5 662.3,438.0 672.5,438.1 682.8,437.4 693.0,438.9 703.3,441.9 713.5,441.6 723.8,439.9 734.0,439.4 744.3,439.4 754.5,436.9 764.8,435.9 775.0,437.4 785.3,438.2 795.5,437.5 805.8,439.4 816.0,441.0 826.3,441.6" fill="none" stroke="#b4bad6" stroke-width="1.1" stroke-linejoin="round"/>
<polyline points="41,443.4 47.3,443.4 57.5,443.5 67.8,443.7 78.0,443.7 88.3,443.8 98.5,444.1 108.8,443.9 119.0,443.3 129.3,443.1 139.6,443.0 149.8,439.8 160.1,435.1 170.3,433.7 180.6,432.7 190.8,430.1 201.1,428.5 211.3,427.4 221.6,426.4 231.8,424.8 242.1,424.2 252.3,426.7 262.6,430.2 272.8,430.2 283.1,430.1 293.3,432.4 303.6,433.3 313.8,434.2 324.1,435.8 334.3,437.2 344.6,437.8 354.8,438.0 365.1,438.0 375.3,438.6 385.6,439.4 395.8,439.8 406.1,439.5 416.3,439.3 426.6,439.1 436.8,439.6 447.1,439.2 457.3,439.8 467.6,440.8 477.8,441.0 488.1,441.0 498.3,440.8 508.6,440.8 518.8,441.3 529.0,441.6 539.3,441.9 549.5,442.1 559.8,442.1 570.0,442.1 580.3,442.1 590.5,442.2 600.8,442.4 611.0,443.2 621.3,443.2 631.5,443.2 641.8,442.0 652.0,440.7 662.3,440.4 672.5,440.4 682.8,440.6 693.0,440.4 703.3,440.2 713.5,439.8 723.8,439.0 734.0,438.4 744.3,439.2 754.5,439.4 764.8,438.8 775.0,438.6 785.3,438.8 795.5,438.5 805.8,438.1 816.0,438.4 826.3,439.5" fill="none" stroke="#d8cf2e" stroke-width="1.2" stroke-linejoin="round"/>
<line x1="41" y1="161" x2="948" y2="161" stroke="#d9cf3a" stroke-width="1.6" stroke-dasharray="1.6 1.8"/>
<line x1="41" y1="129.5" x2="181" y2="159" stroke="#b4b8cb" stroke-width="2.6" stroke-dasharray="2.6 4.6" fill="none"/>
<line x1="41" y1="184.5" x2="147" y2="223.5" stroke="#b4b8cb" stroke-width="2.6" stroke-dasharray="2.6 4.6" fill="none"/>
<line x1="158.7" y1="227" x2="205.7" y2="305" stroke="#b4b8cb" stroke-width="2.6" stroke-dasharray="2.6 4.6" fill="none"/>
<line x1="162" y1="365" x2="312" y2="248" stroke="#b4b8cb" stroke-width="2.6" stroke-dasharray="2.6 4.6" fill="none"/>
<ellipse cx="496.8" cy="254.1" rx="25.5" ry="12.2" fill="none" stroke="#e0281d" stroke-width="2.4"/>
<ellipse cx="569.8" cy="244.2" rx="26.5" ry="7.6" fill="none" stroke="#e0281d" stroke-width="2.4"/>
<ellipse cx="766.2" cy="198" rx="26.5" ry="15.8" fill="none" stroke="#e0281d" stroke-width="2.4"/>
<polygon points="160.6,358.4 239.5,243.8 241.1,244.9 242.5,235.0 233.9,240.1 235.5,241.1 159.4,357.6" fill="#ffffff"/>
<polygon points="242.1,235.6 317.1,284.7 316.1,286.3 326.0,287.5 320.7,279.1 319.7,280.7 242.9,234.4" fill="#ffffff"/>
<polygon points="329.4,289.5 411.5,225.5 412.7,227.0 417.0,218.0 407.3,220.3 408.5,221.8 328.6,288.5" fill="#ffffff"/>
<polygon points="416.7,218.6 490.9,257.6 490.0,259.3 500.0,259.5 493.9,251.6 493.0,253.3 417.3,217.4" fill="#ffffff"/>
<polygon points="500.4,260.2 720.8,119.0 721.8,120.5 727.0,112.0 717.1,113.3 718.1,114.8 499.6,258.8" fill="#ffffff"/>
<polygon points="726.0,112.4 753.7,184.2 752.2,184.8 758.0,190.0 758.7,182.2 757.1,182.8 728.0,111.6" fill="#ffffff"/>
<polygon points="758.5,190.7 885.0,101.5 886.2,103.2 891.0,94.5 881.2,96.3 882.4,98.0 757.5,189.3" fill="#ffffff"/>
<text x="833" y="182" font-size="16" fill="#ffffff" font-family='"Liberation Sans", "Noto Sans CJK SC", sans-serif'>8500$</text>
<text x="170.200" y="370" font-size="8.300" fill="#c5c9d8" font-family='"Liberation Sans", "Noto Sans CJK SC", sans-serif'>3800</text>
<path d="M162.5 366.8h5M162.5 366.8l2-1.6M162.5 366.8l2 1.6" stroke="#c5c9d8" stroke-width="0.8" fill="none"/>
<text x="678.700" y="113.700" font-size="8" fill="#c5c9d8" font-family='"Liberation Sans", "Noto Sans CJK SC", sans-serif'>10060.04</text>
<path d="M716 111.2h5M721 111.2l-2-1.6M721 111.2l-2 1.6" stroke="#c5c9d8" stroke-width="0.8" fill="none"/></svg>
<div class="t" style="left:43.27px;top:92.20px;font-size:8.60px;color:#e3e6f2;transform:scaleX(0.932);transform-origin:0 50%;">时间:2020-05-17 08:00</div>
<div class="t" style="left:129.07px;top:92.20px;font-size:8.60px;color:#e3e6f2;transform:scaleX(0.932);transform-origin:0 50%;">开:9380.36</div>
<div class="t" style="left:172.07px;top:92.20px;font-size:8.60px;color:#e3e6f2;transform:scaleX(0.932);transform-origin:0 50%;">高:9756.00</div>
<div class="t" style="left:215.27px;top:92.20px;font-size:8.60px;color:#e3e6f2;transform:scaleX(0.927);transform-origin:0 50%;">低:9325.00</div>
<div class="t" style="left:258.27px;top:92.20px;font-size:8.60px;color:#e3e6f2;transform:scaleX(0.939);transform-origin:0 50%;">收:9726.26</div>
<div class="t" style="left:301.57px;top:92.20px;font-size:8.60px;color:#e3e6f2;transform:scaleX(0.919);transform-origin:0 50%;">涨幅:</div>
<div class="t" style="left:319.57px;top:92.20px;font-size:8.60px;color:#22b38a;transform:scaleX(0.929);transform-origin:0 50%;">3.67%(344.69)</div>
<div class="t" style="left:375.27px;top:92.20px;font-size:8.60px;color:#e3e6f2;transform:scaleX(0.910);transform-origin:0 50%;">振幅:4.62%</div>
<svg class="abs" style="left:50px;top:106.5px" width="8" height="6" viewBox="0 0 8 6"><path d="M1 1.200l3 3 3-3" fill="none" stroke="#8c92ad" stroke-width="1"/></svg>
<div class="t" style="left:64.07px;top:103.00px;font-size:8.60px;color:#d0d4e4;transform:scaleX(1.009);transform-origin:0 50%;">MA</div>
<svg class="abs" style="left:82.8px;top:105.2px" width="24.0" height="10" viewBox="0 0 24.0 10"><rect x="0" y="0" width="9.800" height="9.800" fill="#262c49"/><rect x="14.0" y="0" width="9.800" height="9.800" fill="#262c49"/><circle cx="4.900" cy="4.900" r="1.700" fill="none" stroke="#3b4368" stroke-width="1.100"/><path d="M16.6 2.600l4.600 4.600M21.2 2.600l-4.600 4.600" stroke="#3b4368" stroke-width="1.300"/></svg>
<div class="t" style="left:110.27px;top:103.00px;font-size:8.60px;color:#c9cde0;transform:scaleX(0.944);transform-origin:0 50%;">MA(7):9270.79</div>
<div class="t" style="left:167.57px;top:103.00px;font-size:8.60px;color:#e8de3a;transform:scaleX(0.952);transform-origin:0 50%;">MA(30):8498.92</div>
<div class="sep" style="left:41px;top:382.500px;width:907px;height:1px;background:#22273f"></div>
<svg class="abs" style="left:50px;top:386.5px" width="8" height="6" viewBox="0 0 8 6"><path d="M1 1.200l3 3 3-3" fill="none" stroke="#8c92ad" stroke-width="1"/></svg>
<div class="t" style="left:64.07px;top:383.70px;font-size:8.60px;color:#d0d4e4;transform:scaleX(0.877);transform-origin:0 50%;">VOLUME</div>
<svg class="abs" style="left:99.6px;top:385px" width="23.9" height="10" viewBox="0 0 23.9 10"><rect x="0" y="0" width="9.800" height="9.800" fill="#262c49"/><rect x="13.9" y="0" width="9.800" height="9.800" fill="#262c49"/><circle cx="4.900" cy="4.900" r="1.700" fill="none" stroke="#3b4368" stroke-width="1.100"/><path d="M16.5 2.600l4.600 4.600M21.1 2.600l-4.600 4.600" stroke="#3b4368" stroke-width="1.300"/></svg>
<div class="t" style="left:127.57px;top:383.70px;font-size:8.60px;color:#d0d4e4;transform:scaleX(0.898);transform-origin:0 50%;">VOLUME:22,743.9539</div>
<div class="t" style="left:209.57px;top:383.70px;font-size:8.60px;color:#c9cde0;transform:scaleX(0.933);transform-origin:0 50%;">MA(5):46,710.1883</div>
<div class="t" style="left:282.07px;top:383.70px;font-size:8.60px;color:#e8de3a;transform:scaleX(0.943);transform-origin:0 50%;">MA(10):60,540.8383</div>
<div class="t" style="left:48.29px;top:453.00px;font-size:8.30px;color:#aeb3c9;transform:scaleX(0.987);transform-origin:0 50%;">MA</div>
<div class="t" style="left:67.58px;top:453.00px;font-size:8.30px;color:#aeb3c9;transform:scaleX(0.986);transform-origin:0 50%;">EMA</div>
<div class="t" style="left:92.08px;top:453.00px;font-size:8.30px;color:#3f8cf5;transform:scaleX(0.909);transform-origin:0 50%;">VOLUME</div>
<div class="t" style="left:130.78px;top:453.00px;font-size:8.30px;color:#aeb3c9;transform:scaleX(0.949);transform-origin:0 50%;">MACD</div>
<div class="t" style="left:161.28px;top:453.00px;font-size:8.30px;color:#aeb3c9;transform:scaleX(0.919);transform-origin:0 50%;">DMI</div>
<div class="t" style="left:182.59px;top:453.00px;font-size:8.30px;color:#aeb3c9;transform:scaleX(0.960);transform-origin:0 50%;">DMA</div>
<div class="t" style="left:207.59px;top:453.00px;font-size:8.30px;color:#aeb3c9;transform:scaleX(0.909);transform-origin:0 50%;">TRIX</div>
<div class="t" style="left:231.59px;top:453.00px;font-size:8.30px;color:#aeb3c9;transform:scaleX(0.918);transform-origin:0 50%;">BRAR</div>
<div class="t" style="left:259.58px;top:453.00px;font-size:8.30px;color:#aeb3c9;transform:scaleX(0.858);transform-origin:0 50%;">VR</div>
<div class="t" style="left:277.08px;top:453.00px;font-size:8.30px;color:#aeb3c9;transform:scaleX(0.923);transform-origin:0 50%;">OBV</div>
<div class="t" style="left:300.08px;top:453.00px;font-size:8.30px;color:#aeb3c9;transform:scaleX(0.940);transform-origin:0 50%;">EMV</div>
<div class="t" style="left:324.08px;top:453.00px;font-size:8.30px;color:#aeb3c9;transform:scaleX(0.894);transform-origin:0 50%;">RSI</div>
<div class="t" style="left:343.28px;top:453.00px;font-size:8.30px;color:#aeb3c9;transform:scaleX(0.858);transform-origin:0 50%;">WR</div>
<div class="t" style="left:362.58px;top:453.00px;font-size:8.30px;color:#aeb3c9;transform:scaleX(0.919);transform-origin:0 50%;">SAR</div>
<div class="t" style="left:385.08px;top:453.00px;font-size:8.30px;color:#aeb3c9;transform:scaleX(0.937);transform-origin:0 50%;">KDJ</div>
<div class="t" style="left:407.08px;top:453.00px;font-size:8.30px;color:#aeb3c9;transform:scaleX(0.858);transform-origin:0 50%;">ROC</div>
<div class="t" style="left:430.08px;top:453.00px;font-size:8.30px;color:#aeb3c9;transform:scaleX(0.964);transform-origin:0 50%;">MTM</div>
<div class="t" style="left:456.58px;top:453.00px;font-size:8.30px;color:#aeb3c9;transform:scaleX(0.903);transform-origin:0 50%;">BOLL</div>
<div class="t" style="left:482.58px;top:453.00px;font-size:8.30px;color:#aeb3c9;transform:scaleX(0.882);transform-origin:0 50%;">PSY</div>
<div class="t" style="left:504.58px;top:453.00px;font-size:8.30px;color:#aeb3c9;transform:scaleX(0.932);transform-origin:0 50%;">StochRSI</div>
<div class="t" style="left:544.59px;top:453.00px;font-size:8.30px;color:#aeb3c9;transform:scaleX(0.928);transform-origin:0 50%;">SMI</div>
<div class="t" style="left:565.79px;top:453.00px;font-size:8.30px;color:#aeb3c9;transform:scaleX(0.922);transform-origin:0 50%;">CCI</div>
<div class="t" style="left:585.79px;top:453.00px;font-size:8.30px;color:#aeb3c9;transform:scaleX(0.960);transform-origin:0 50%;">MFI</div>
<div class="t" style="left:606.59px;top:453.00px;font-size:8.30px;color:#aeb3c9;transform:scaleX(0.932);transform-origin:0 50%;">ATR</div>
<div class="t" style="left:628.79px;top:453.00px;font-size:8.30px;color:#aeb3c9;transform:scaleX(0.909);transform-origin:0 50%;">BBW</div>
<div class="t" style="left:653.29px;top:453.00px;font-size:8.30px;color:#aeb3c9;transform:scaleX(0.943);transform-origin:0 50%;">SKDJ</div>
<div class="t" style="left:680.09px;top:453.00px;font-size:8.30px;color:#aeb3c9;transform:scaleX(0.935);transform-origin:0 50%;">BIAS</div>
<div class="t" style="left:704.59px;top:453.00px;font-size:8.30px;color:#aeb3c9;transform:scaleX(0.911);transform-origin:0 50%;">DPO</div>
<div class="t" style="left:727.79px;top:453.00px;font-size:8.30px;color:#aeb3c9;transform:scaleX(0.889);transform-origin:0 50%;">AO</div>
<div class="t" style="left:745.79px;top:453.00px;font-size:8.30px;color:#aeb3c9;transform:scaleX(0.987);transform-origin:0 50%;">Position</div>
<div class="t" style="left:782.59px;top:453.00px;font-size:8.30px;color:#aeb3c9;transform:scaleX(0.987);transform-origin:0 50%;">Fundflow</div>
<div class="t" style="left:822.79px;top:453.00px;font-size:8.30px;color:#aeb3c9;transform:scaleX(0.934);transform-origin:0 50%;">AI-NetVOL</div>
<div class="t" style="left:867.59px;top:453.00px;font-size:8.30px;color:#aeb3c9;transform:scaleX(0.888);transform-origin:0 50%;">LSUR</div>
<div class="t" style="left:894.09px;top:453.00px;font-size:8.30px;color:#aeb3c9;transform:scaleX(0.915);transform-origin:0 50%;">BASIS</div>
<div class="sep" style="left:41px;top:466.800px;width:955.500px;height:1px;background:#252a43"></div>
<div class="t" style="left:108.27px;top:468.70px;font-size:8.60px;color:#aeb3c9;transform:scaleX(0.950);transform-origin:0 50%;">3月 9</div>
<div class="t" style="left:167.57px;top:468.70px;font-size:8.60px;color:#aeb3c9;transform:scaleX(0.977);transform-origin:0 50%;">3月 15</div>
<div class="t" style="left:229.07px;top:468.70px;font-size:8.60px;color:#aeb3c9;transform:scaleX(0.936);transform-origin:0 50%;">3月 21</div>
<div class="t" style="left:290.77px;top:468.70px;font-size:8.60px;color:#aeb3c9;transform:scaleX(0.969);transform-origin:0 50%;">3月 27</div>
<div class="t" style="left:354.57px;top:468.70px;font-size:8.60px;color:#aeb3c9;transform:scaleX(0.945);transform-origin:0 50%;">4月 2</div>
<div class="t" style="left:416.57px;top:468.70px;font-size:8.60px;color:#aeb3c9;transform:scaleX(0.910);transform-origin:0 50%;">4月 8</div>
<div class="t" style="left:475.07px;top:468.70px;font-size:8.60px;color:#aeb3c9;transform:scaleX(0.977);transform-origin:0 50%;">4月 14</div>
<div class="t" style="left:536.57px;top:468.70px;font-size:8.60px;color:#aeb3c9;transform:scaleX(0.985);transform-origin:0 50%;">4月 20</div>
<div class="t" style="left:598.27px;top:468.70px;font-size:8.60px;color:#aeb3c9;transform:scaleX(0.969);transform-origin:0 50%;">4月 26</div>
<div class="t" style="left:662.07px;top:468.70px;font-size:8.60px;color:#aeb3c9;transform:scaleX(0.945);transform-origin:0 50%;">5月 2</div>
<div class="t" style="left:723.77px;top:468.70px;font-size:8.60px;color:#aeb3c9;transform:scaleX(0.925);transform-origin:0 50%;">5月 8</div>
<div class="t" style="left:783.27px;top:468.70px;font-size:8.60px;color:#aeb3c9;transform:scaleX(0.948);transform-origin:0 50%;">5月 14</div>
<div class="t" style="left:844.57px;top:468.70px;font-size:8.60px;color:#aeb3c9;transform:scaleX(0.936);transform-origin:0 50%;">5月 20</div>
<div class="t" style="left:906.27px;top:468.70px;font-size:8.60px;color:#aeb3c9;transform:scaleX(0.928);transform-origin:0 50%;">5月 26</div>
<div class="t" style="left:930.74px;top:468.70px;font-size:9.16px;color:#aeb3c9;">对数</div>
<div class="t" style="left:956.41px;top:468.70px;font-size:7.74px;color:#aeb3c9;">%</div>
<div class="t" style="left:969.55px;top:468.70px;font-size:8.90px;color:#3f8cf5;">自动</div>
<div class="abs" style="left:948px;top:89.500px;width:1px;height:377px;background:#2a2f49"></div>
<div class="t" style="left:957.77px;top:353.60px;font-size:8.60px;color:#b7bcd0;transform:scaleX(0.956);transform-origin:0 50%;">4000.00</div>
<div class="abs" style="left:948px;top:359.6px;width:3px;height:1px;background:#2a2f49"></div>
<div class="t" style="left:957.77px;top:312.30px;font-size:8.60px;color:#b7bcd0;transform:scaleX(0.956);transform-origin:0 50%;">5000.00</div>
<div class="abs" style="left:948px;top:318.3px;width:3px;height:1px;background:#2a2f49"></div>
<div class="t" style="left:957.77px;top:271.00px;font-size:8.60px;color:#b7bcd0;transform:scaleX(0.956);transform-origin:0 50%;">6000.00</div>
<div class="abs" style="left:948px;top:277.0px;width:3px;height:1px;background:#2a2f49"></div>
<div class="t" style="left:957.77px;top:229.70px;font-size:8.60px;color:#b7bcd0;transform:scaleX(0.956);transform-origin:0 50%;">7000.00</div>
<div class="abs" style="left:948px;top:235.7px;width:3px;height:1px;background:#2a2f49"></div>
<div class="t" style="left:957.77px;top:188.40px;font-size:8.60px;color:#b7bcd0;transform:scaleX(0.956);transform-origin:0 50%;">8000.00</div>
<div class="abs" style="left:948px;top:194.4px;width:3px;height:1px;background:#2a2f49"></div>
<div class="t" style="left:957.77px;top:147.10px;font-size:8.60px;color:#b7bcd0;transform:scaleX(0.956);transform-origin:0 50%;">9000.00</div>
<div class="abs" style="left:948px;top:153.1px;width:3px;height:1px;background:#2a2f49"></div>
<div class="t" style="left:955.57px;top:105.80px;font-size:8.60px;color:#b7bcd0;transform:scaleX(0.940);transform-origin:0 50%;">10000.00</div>
<div class="abs" style="left:948px;top:111.8px;width:3px;height:1px;background:#2a2f49"></div>
<div class="abs" style="left:948px;top:117px;width:48.500px;height:14.600px;background:#1fa67b;"></div>
<div class="abs" style="left:949.500px;top:124px;width:3px;height:1px;background:#e8f5f0"></div>
<div class="t" style="left:957.17px;top:117.90px;font-size:8.60px;color:#ffffff;transform:scaleX(0.970);transform-origin:0 50%;">9726.26</div>
<div class="t" style="left:959.57px;top:412.20px;font-size:8.60px;color:#b7bcd0;transform:scaleX(0.946);transform-origin:0 50%;">200.0k</div>
<div class="abs" style="left:948.500px;top:438px;width:47px;height:14px;background:#d69a2c;"></div>
<div class="abs" style="left:949.500px;top:444.500px;width:3px;height:1px;background:#fff"></div>
<div class="t" style="left:961.57px;top:439.20px;font-size:8.60px;color:#ffffff;transform:scaleX(0.947);transform-origin:0 50%;">22.7k</div>
<div class="abs" style="left:996.500px;top:20px;width:3.500px;height:466px;background:#0f1221"></div>
<div class="abs" style="left:996px;top:249.500px;width:4px;height:28.500px;background:#4a5382;"></div>
<div class="abs" style="left:997px;top:261.500px;width:0;height:0;border-top:2px solid transparent;border-bottom:2px solid transparent;border-right:2.500px solid #aeb5d6;"></div>
<div class="abs" style="left:0;top:483px;width:1000px;height:3px;background:#0f1221"></div>
<div class="abs" style="left:519.500px;top:483px;width:27.500px;height:3px;background:#363d60;"></div>
<div class="abs" style="left:531.500px;top:484px;width:0;height:0;border-left:2px solid transparent;border-right:2px solid transparent;border-bottom:2px solid #aeb5d6;"></div>
</body></html>
